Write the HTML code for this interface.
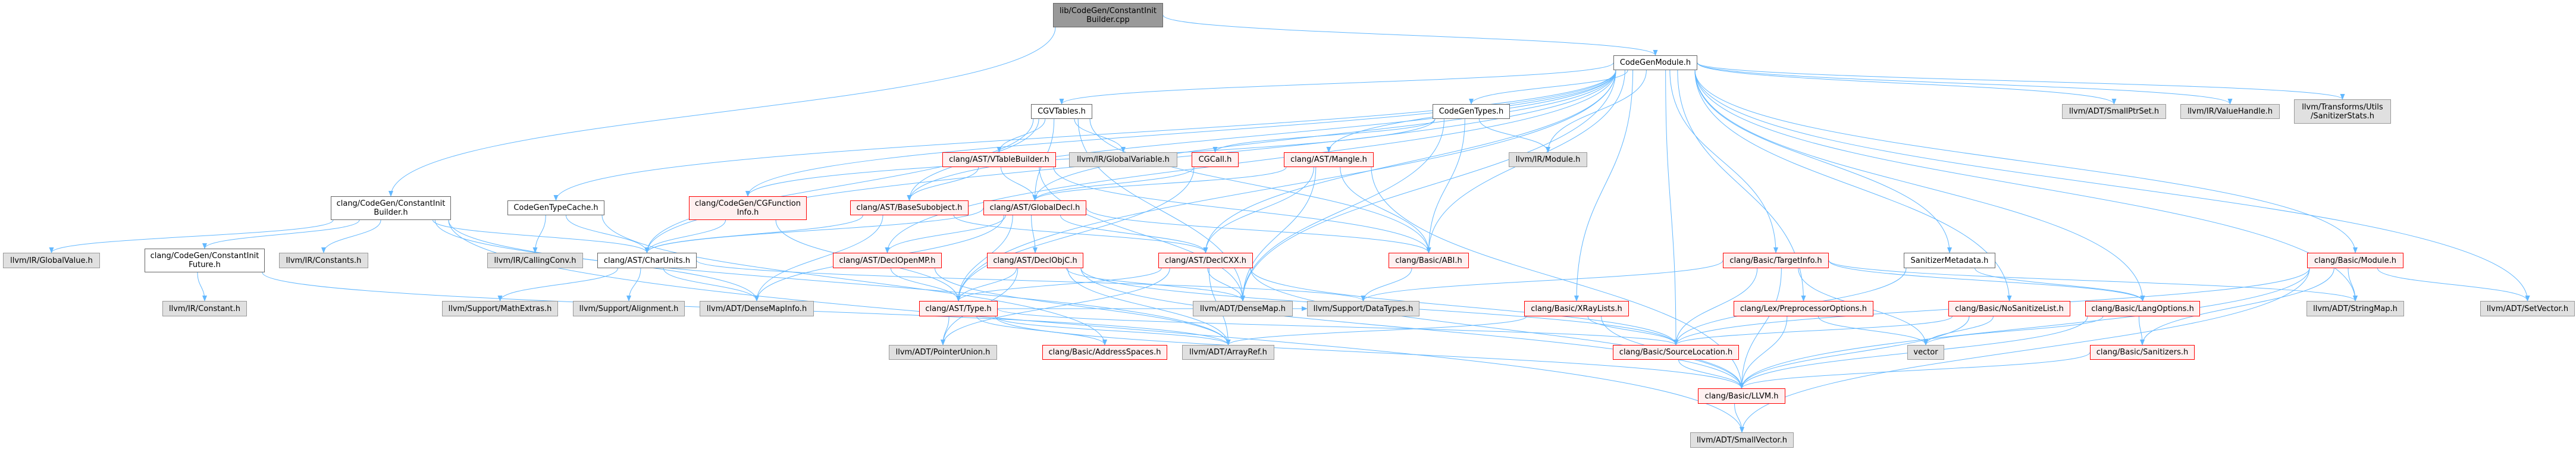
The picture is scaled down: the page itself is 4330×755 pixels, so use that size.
<!DOCTYPE html>
<html><head><meta charset="utf-8"><style>
body{margin:0;width:4330px;height:755px;background:#fff;position:relative;overflow:hidden;font-family:"DejaVu Sans","Liberation Sans",sans-serif;}
svg{position:absolute;left:0;top:0}
.n{position:absolute;box-sizing:border-box;display:flex;align-items:center;justify-content:center;text-align:center;font-size:13px;line-height:15px;color:#000;white-space:nowrap}
.w{background:#fff;border:1px solid #666}
.g{background:#e0e0e0;border:1px solid #999}
.r{background:#fff0f0;border:1px solid #f00}
.d{background:#999;border:1px solid #666}
</style></head><body>
<svg id="s" width="4330" height="755"><defs><marker id="a" markerWidth="10" markerHeight="8" refX="9" refY="4" orient="auto" markerUnits="userSpaceOnUse"><path d="M0,0 L10,4 L0,8 z" fill="#63b8ff"/></marker></defs><g id="e" fill="none" stroke="#63b8ff" stroke-width="1"></g></svg>
<div class="n d" style="left:1770px;top:5px;width:185px;height:41px">lib/CodeGen/ConstantInit<br>Builder.cpp</div>
<div class="n w" style="left:2712px;top:93px;width:141px;height:25px">CodeGenModule.h</div>
<div class="n w" style="left:556px;top:330px;width:202px;height:40px">clang/CodeGen/ConstantInit<br>Builder.h</div>
<div class="n w" style="left:853px;top:337px;width:163px;height:25px">CodeGenTypeCache.h</div>
<div class="n r" style="left:1158px;top:330px;width:198px;height:40px">clang/CodeGen/CGFunction<br>Info.h</div>
<div class="n r" style="left:1429px;top:337px;width:199px;height:25px">clang/AST/BaseSubobject.h</div>
<div class="n r" style="left:1653px;top:337px;width:173px;height:25px">clang/AST/GlobalDecl.h</div>
<div class="n w" style="left:1733px;top:175px;width:103px;height:25px">CGVTables.h</div>
<div class="n r" style="left:1584px;top:256px;width:191px;height:25px">clang/AST/VTableBuilder.h</div>
<div class="n g" style="left:1797px;top:256px;width:182px;height:25px">llvm/IR/GlobalVariable.h</div>
<div class="n r" style="left:2003px;top:256px;width:79px;height:25px">CGCall.h</div>
<div class="n r" style="left:2158px;top:256px;width:151px;height:25px">clang/AST/Mangle.h</div>
<div class="n w" style="left:2408px;top:175px;width:130px;height:25px">CodeGenTypes.h</div>
<div class="n g" style="left:2536px;top:256px;width:132px;height:25px">llvm/IR/Module.h</div>
<div class="n g" style="left:3466px;top:175px;width:175px;height:25px">llvm/ADT/SmallPtrSet.h</div>
<div class="n g" style="left:3665px;top:175px;width:167px;height:25px">llvm/IR/ValueHandle.h</div>
<div class="n g" style="left:3856px;top:167px;width:163px;height:41px">llvm/Transforms/Utils<br>/SanitizerStats.h</div>
<div class="n g" style="left:5px;top:425px;width:163px;height:26px">llvm/IR/GlobalValue.h</div>
<div class="n w" style="left:243px;top:418px;width:202px;height:40px">clang/CodeGen/ConstantInit<br>Future.h</div>
<div class="n g" style="left:469px;top:425px;width:150px;height:26px">llvm/IR/Constants.h</div>
<div class="n g" style="left:819px;top:425px;width:161px;height:26px">llvm/IR/CallingConv.h</div>
<div class="n w" style="left:1004px;top:425px;width:167px;height:26px">clang/AST/CharUnits.h</div>
<div class="n r" style="left:1400px;top:425px;width:183px;height:26px">clang/AST/DeclOpenMP.h</div>
<div class="n r" style="left:1659px;top:425px;width:162px;height:26px">clang/AST/DeclObjC.h</div>
<div class="n r" style="left:1947px;top:425px;width:159px;height:26px">clang/AST/DeclCXX.h</div>
<div class="n r" style="left:2334px;top:425px;width:135px;height:26px">clang/Basic/ABI.h</div>
<div class="n r" style="left:2896px;top:425px;width:178px;height:26px">clang/Basic/TargetInfo.h</div>
<div class="n w" style="left:3200px;top:425px;width:154px;height:26px">SanitizerMetadata.h</div>
<div class="n r" style="left:3878px;top:425px;width:162px;height:26px">clang/Basic/Module.h</div>
<div class="n g" style="left:273px;top:506px;width:142px;height:26px">llvm/IR/Constant.h</div>
<div class="n g" style="left:743px;top:506px;width:195px;height:26px">llvm/Support/MathExtras.h</div>
<div class="n g" style="left:963px;top:506px;width:188px;height:26px">llvm/Support/Alignment.h</div>
<div class="n g" style="left:1176px;top:506px;width:192px;height:26px">llvm/ADT/DenseMapInfo.h</div>
<div class="n r" style="left:1545px;top:506px;width:132px;height:26px">clang/AST/Type.h</div>
<div class="n g" style="left:2005px;top:506px;width:168px;height:26px">llvm/ADT/DenseMap.h</div>
<div class="n g" style="left:2197px;top:506px;width:189px;height:26px">llvm/Support/DataTypes.h</div>
<div class="n r" style="left:2562px;top:506px;width:176px;height:26px">clang/Basic/XRayLists.h</div>
<div class="n r" style="left:2914px;top:506px;width:235px;height:26px">clang/Lex/PreprocessorOptions.h</div>
<div class="n r" style="left:3275px;top:506px;width:205px;height:26px">clang/Basic/NoSanitizeList.h</div>
<div class="n r" style="left:3505px;top:506px;width:193px;height:26px">clang/Basic/LangOptions.h</div>
<div class="n g" style="left:3877px;top:506px;width:164px;height:26px">llvm/ADT/StringMap.h</div>
<div class="n g" style="left:4169px;top:506px;width:159px;height:26px">llvm/ADT/SetVector.h</div>
<div class="n g" style="left:1494px;top:580px;width:182px;height:25px">llvm/ADT/PointerUnion.h</div>
<div class="n r" style="left:1752px;top:580px;width:210px;height:25px">clang/Basic/AddressSpaces.h</div>
<div class="n g" style="left:1987px;top:580px;width:155px;height:25px">llvm/ADT/ArrayRef.h</div>
<div class="n r" style="left:2711px;top:580px;width:212px;height:25px">clang/Basic/SourceLocation.h</div>
<div class="n g" style="left:3206px;top:580px;width:62px;height:25px">vector</div>
<div class="n r" style="left:3513px;top:580px;width:176px;height:25px">clang/Basic/Sanitizers.h</div>
<div class="n r" style="left:2854px;top:653px;width:147px;height:26px">clang/Basic/LLVM.h</div>
<div class="n g" style="left:2841px;top:727px;width:174px;height:26px">llvm/ADT/SmallVector.h</div>
<script>
var N={cpp:[1770,1955,5,46],CGM:[2712,2853,93,118],CIB:[556,758,330,370],CTC:[853,1016,337,362],CGFI:[1158,1356,330,370],BSO:[1429,1628,337,362],GD:[1653,1826,337,362],CGVT:[1733,1836,175,200],VTB:[1584,1775,256,281],GV:[1797,1979,256,281],CGCall:[2003,2082,256,281],Mangle:[2158,2309,256,281],CGT:[2408,2538,175,200],Mod:[2536,2668,256,281],SPS:[3466,3641,175,200],VH:[3665,3832,175,200],SS:[3856,4019,167,208],GVal:[5,168,425,451],CIF:[243,445,418,458],Consts:[469,619,425,451],CC:[819,980,425,451],CU:[1004,1171,425,451],DOMP:[1400,1583,425,451],DObjC:[1659,1821,425,451],DCXX:[1947,2106,425,451],ABI:[2334,2469,425,451],TI:[2896,3074,425,451],SM:[3200,3354,425,451],BMod:[3878,4040,425,451],Const:[273,415,506,532],ME:[743,938,506,532],Align:[963,1151,506,532],DMI:[1176,1368,506,532],Type:[1545,1677,506,532],DM:[2005,2173,506,532],DT:[2197,2386,506,532],XRay:[2562,2738,506,532],PPO:[2914,3149,506,532],NSL:[3275,3480,506,532],LO:[3505,3698,506,532],SMap:[3877,4041,506,532],SV:[4169,4328,506,532],PU:[1494,1676,580,605],AS:[1752,1962,580,605],AR:[1987,2142,580,605],SL:[2711,2923,580,605],vec:[3206,3268,580,605],San:[3513,3689,580,605],LLVM:[2854,3001,653,679],SVec:[2841,3015,727,753]};
var E="cpp CGM,cpp CIB,CGM CTC,CGM CGVT,CGM CGT,CGM CU,CGM CGFI,CGM GD,CGM BSO,CGM DOMP,CGM DCXX,CGM Mangle,CGM ABI,CGM Mod,CGM SPS,CGM VH,CGM SS,CGM TI,CGM SM,CGM BMod,CGM SMap,CGM SV,CGM XRay,CGM NSL,CGM LO,CGM PPO,CGM DM,CGM SL,CGM Type,CGVT VTB,CGVT GD,CGVT BSO,CGVT GV,CGVT CU,CGVT ABI,CGVT DM,CGT CGCall,CGT Mod,CGT ABI,CGT CGFI,CGT DM,VTB BSO,VTB GD,VTB ABI,VTB DM,GD DOMP,GD DObjC,GD DCXX,GD ABI,GD CU,GD DMI,GD Type,BSO CU,BSO DMI,BSO DCXX,CGFI CU,CGFI Type,CGCall GD,CGCall Type,Mangle GD,Mangle ABI,Mangle DM,Mangle DCXX,Mangle LLVM,CTC CC,CTC CU,CTC AS,CIB GVal,CIB CIF,CIB Consts,CIB CU,CIB SVec,CIB AR,CIB DMI,CIF Const,CIF AR,CU ME,CU Align,CU DMI,CU DT,DOMP Type,DOMP AR,DObjC Type,DObjC PU,DObjC DM,DObjC AR,DObjC SL,DObjC LLVM,DCXX Type,DCXX DM,DCXX AR,DCXX PU,DCXX LLVM,DCXX SL,Type PU,Type AS,Type AR,Type LLVM,Type SL,Type DT,ABI DT,TI DT,TI SL,TI vec,TI LO,TI SMap,TI LLVM,SM SL,SM LO,PPO LLVM,PPO vec,NSL SL,NSL vec,NSL LLVM,LO vec,LO San,LO LLVM,San LLVM,SL LLVM,XRay AR,XRay SL,XRay LLVM,BMod SMap,BMod SV,BMod SL,BMod LLVM,BMod SVec,BMod San,LLVM SVec".split(",");
var g=document.getElementById("e"),o={};
E.forEach(function(p){var a=p.split(" "),s=N[a[0]],t=N[a[1]];
var k=a[0];o[k]=(o[k]||0)+1;var scx=(s[0]+s[1])/2,tcx=(t[0]+t[1])/2;
var off=((o[k]%7)-3)*Math.min(6,(s[1]-s[0])/14);
var d;
if(t[2]>=s[3]-2){var sx=Math.max(s[0]+4,Math.min(s[1]-4,scx+off+(tcx-scx)*0.15)),sy=s[3],tx=tcx,ty=t[2];
if(Math.abs(tcx-scx)>600&&t[2]-s[3]<80){sy=(s[2]+s[3])/2;sx=tcx>scx?s[1]:s[0];}
var m=(ty-sy)*0.5;d="M"+sx+","+sy+" C"+sx+","+(sy+m)+" "+tx+","+(ty-m)+" "+tx+","+ty;}
else{var sy2=(s[2]+s[3])/2,ty2=(t[2]+t[3])/2,sx2=tcx>scx?s[1]:s[0],tx2=tcx>scx?t[0]:t[1];
d="M"+sx2+","+sy2+" C"+(sx2+tx2)/2+","+sy2+" "+(sx2+tx2)/2+","+ty2+" "+tx2+","+ty2;}
var el=document.createElementNS("http://www.w3.org/2000/svg","path");el.setAttribute("d",d);el.setAttribute("marker-end","url(#a)");g.appendChild(el);});
</script>
</body></html>
